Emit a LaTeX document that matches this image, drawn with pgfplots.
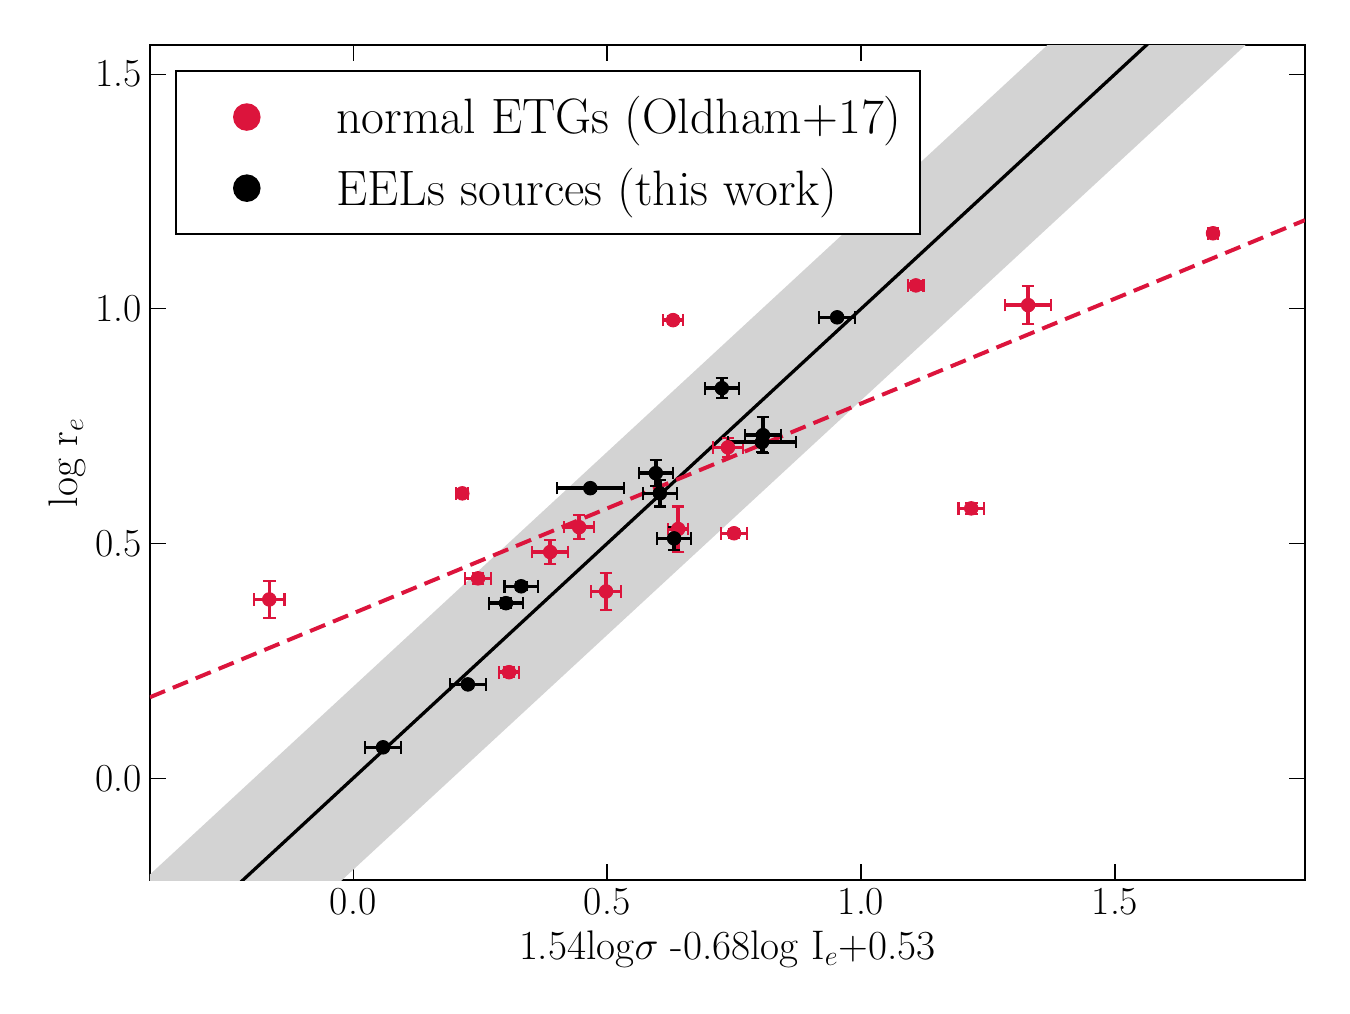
\documentclass[border=0pt]{standalone}
\usepackage{pgfplots}
\pgfplotsset{compat=1.18}
\definecolor{crim}{RGB}{220,20,60}
\definecolor{band}{RGB}{211,211,211}
\pgfplotstableread{
x y ex ey
-0.165 0.381 0.030 0.040
0.215 0.607 0.012 0.008
0.246 0.426 0.025 0.012
0.307 0.226 0.020 0.010
0.388 0.482 0.035 0.025
0.445 0.535 0.030 0.025
0.498 0.398 0.030 0.040
0.630 0.976 0.020 0.008
0.640 0.531 0.020 0.048
0.738 0.705 0.030 0.020
0.750 0.522 0.025 0.010
1.108 1.050 0.015 0.010
1.217 0.575 0.025 0.012
1.329 1.008 0.045 0.040
1.693 1.161 0.010 0.005
}\redtab
\pgfplotstableread{
x y ex ey
0.059 0.066 0.035 0.008
0.226 0.200 0.035 0.008
0.301 0.373 0.033 0.010
0.331 0.409 0.033 0.008
0.467 0.618 0.066 0.005
0.596 0.650 0.033 0.028
0.604 0.607 0.034 0.028
0.632 0.511 0.033 0.025
0.726 0.831 0.033 0.021
0.807 0.731 0.035 0.038
0.805 0.716 0.067 0.020
0.953 0.982 0.035 0.008
}\blacktab
\begin{document}
\begin{tikzpicture}
\path[use as bounding box] (-64.2pt,-57pt) rectangle (513.9pt,376.9pt);
\begin{axis}[
  scale only axis, width=494.6pt, height=357.6pt,
  xmin=-0.4, xmax=1.874, ymin=-0.217, ymax=1.562,
  xtick={0,0.5,1,1.5}, ytick={0,0.5,1,1.5},
  xticklabels={0.0,0.5,1.0,1.5}, yticklabels={0.0,0.5,1.0,1.5},
  tick align=inside, major tick length=7pt,
  tick style={black, line width=0.5pt},
  ticklabel style={font=\fontsize{17}{20}\selectfont},
  label style={font=\fontsize{17.7}{21}\selectfont},
  xlabel={1.54log$\sigma$ -0.68log I$_e$+0.53},
  ylabel={log r$_e$},
  xlabel style={at={(axis description cs:0.5,0)}, anchor=north, yshift=-18pt},
  ylabel style={at={(axis description cs:0,0.5)}, anchor=south, yshift=24pt},
  axis line style={line width=0.8pt},
  legend style={at={(axis description cs:0.0216,0.9701)}, anchor=north west,
    font=\fontsize{21.3}{25}\selectfont, draw=black, line width=0.8pt,
    row sep=9pt, inner xsep=0pt, inner ysep=9pt, cells={anchor=west}},
  legend cell align=left,
]
\addplot[draw=none, fill=band, forget plot] coordinates {(-0.7,-0.505) (2.1,2.295) (2.1,1.905) (-0.7,-0.895)} -- cycle;
\addplot[black, line width=1.4pt, forget plot] coordinates {(-0.5,-0.5) (2.0,2.0)};
\addplot[crim, line width=1.7pt, dash pattern=on 7pt off 3.6pt, forget plot] coordinates {(-0.4,0.1726) (1.874,1.189)};
\addplot[crim, only marks, mark=*, mark size=2.9pt, forget plot,
  error bars/.cd, x dir=both, x explicit, y dir=both, y explicit,
  error bar style={line width=1.5pt}, error mark options={rotate=90, mark size=2.7pt, line width=0.9pt}]
  table[x=x, y=y, x error=ex, y error=ey] {\redtab};
\addplot[black, only marks, mark=*, mark size=2.9pt, forget plot,
  error bars/.cd, x dir=both, x explicit, y dir=both, y explicit,
  error bar style={line width=1.5pt}, error mark options={rotate=90, mark size=2.7pt, line width=0.9pt}]
  table[x=x, y=y, x error=ex, y error=ey] {\blacktab};
\addlegendimage{legend image code/.code={\fill[crim] (30pt,0pt) circle (5.5pt);\path (0pt,0pt) (66pt,0pt);}}
\addlegendentry{normal ETGs (Oldham+17)\rule{6pt}{0pt}}
\addlegendimage{legend image code/.code={\fill[black] (30pt,0pt) circle (5.5pt);\path (0pt,0pt) (66pt,0pt);}}
\addlegendentry{EELs sources (this work)}
\end{axis}
\end{tikzpicture}
\end{document}
